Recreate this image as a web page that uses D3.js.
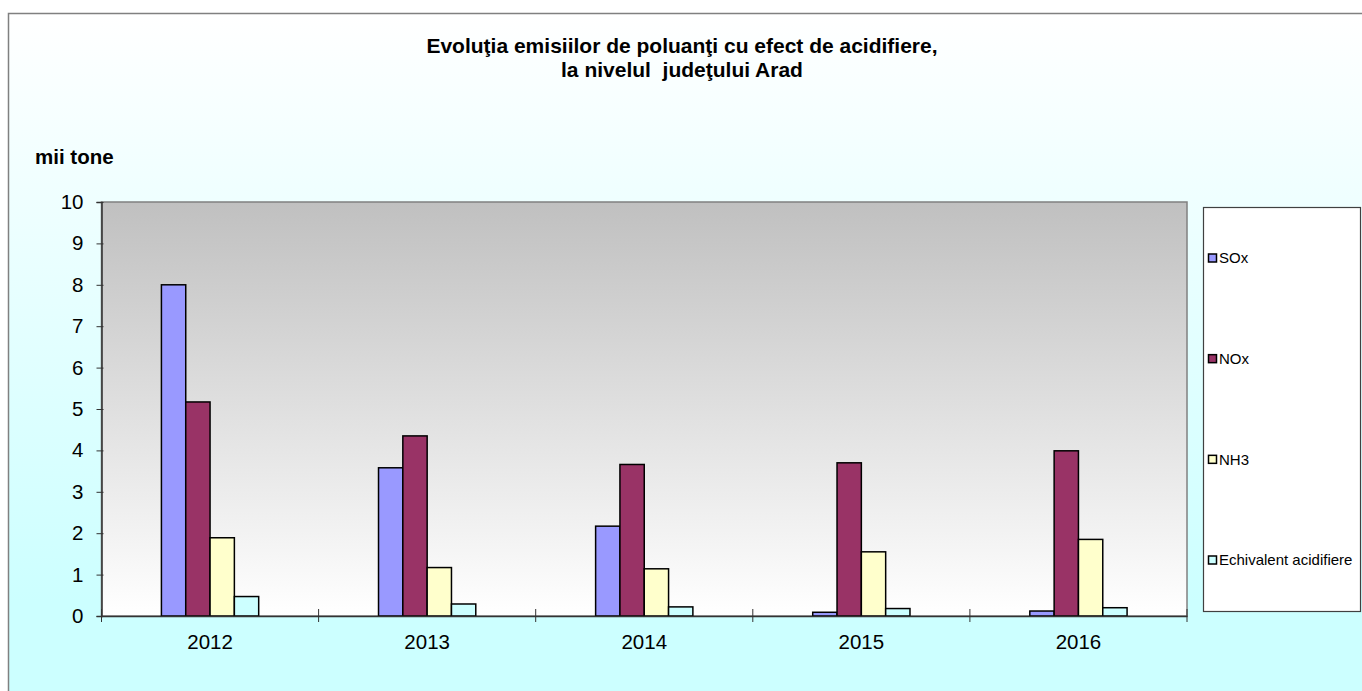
<!DOCTYPE html>
<html>
<head>
<meta charset="utf-8">
<script src="https://cdn.jsdelivr.net/npm/d3@7"></script>
<style>
    body { margin: 0; background: #ffffff; }
    svg { display: block; font-family: "Liberation Sans", Arial, sans-serif; }
</style>
</head>
<body>
<svg id="chart"></svg>
<script>
CHART_WIDTH = 1362;
CHART_HEIGHT = 691;
PLOT = { left: 101.5, right: 1187, top: 202, bottom: 616 };

// valori (mii tone)
var years = ["2012", "2013", "2014", "2015", "2016"];
var seriesNames = ["SOx", "NOx", "NH3", "Echivalent acidifiere"];
var sox = [8.0, 3.58, 2.17, 0.09, 0.12];
var nox = [5.17, 4.35, 3.66, 3.70, 3.99];
var nh3 = [1.89, 1.17, 1.14, 1.55, 1.85];
var echiv = [0.47, 0.29, 0.22, 0.18, 0.20];
var yTicks = [0, 1, 2, 3, 4, 5, 6, 7, 8, 9, 10];
var seriesColors = ["#9999ff", "#993366", "#ffffcc", "#ccffff"];

function main() {
    var svg = d3.select("#chart")
        .attr("width", CHART_WIDTH)
        .attr("height", CHART_HEIGHT);

    addGradients(svg);

    // fundalul graficului
    svg.append("rect")
        .attr("x", 8.5)
        .attr("y", 13.5)
        .attr("width", CHART_WIDTH)
        .attr("height", CHART_HEIGHT)
        .attr("fill", "url(#bgGrad)")
        .attr("stroke", "#808080")
        .attr("stroke-width", 1.5);

    svg.append("text")
        .attr("x", 682)
        .attr("y", 53)
        .attr("text-anchor", "middle")
        .style("font-size", "21px")
        .style("font-weight", "bold")
        .text("Evoluţia emisiilor de poluanţi cu efect de acidifiere,");
    svg.append("text")
        .attr("x", 682)
        .attr("y", 77)
        .attr("text-anchor", "middle")
        .style("font-size", "21px")
        .style("font-weight", "bold")
        .style("white-space", "pre")
        .text("la nivelul  judeţului Arad");

    svg.append("text")
        .attr("x", 35)
        .attr("y", 164)
        .style("font-size", "20.5px")
        .style("font-weight", "bold")
        .text("mii tone");

    var x = d3.scaleBand().domain(years).range([PLOT.left, PLOT.right]);
    var y = d3.scaleLinear().domain([0, 10]).range([PLOT.bottom, PLOT.top]);

    buildPlot(svg, x, y);
    addLegend(svg);
}

function addGradients(svg) {
    var defs = svg.append("defs");
    var bg = defs.append("linearGradient")
        .attr("id", "bgGrad")
        .attr("x1", 0).attr("y1", 0).attr("x2", 0).attr("y2", 1);
    bg.append("stop").attr("offset", "0%").attr("stop-color", "#ffffff");
    bg.append("stop").attr("offset", "85%").attr("stop-color", "#ccffff");
    bg.append("stop").attr("offset", "100%").attr("stop-color", "#ccffff");

    var plot = defs.append("linearGradient")
        .attr("id", "plotGrad")
        .attr("x1", 0).attr("y1", 0).attr("x2", 0).attr("y2", 1);
    plot.append("stop").attr("offset", "0%").attr("stop-color", "#c0c0c0");
    plot.append("stop").attr("offset", "100%").attr("stop-color", "#ffffff");
}

function buildPlot(svg, x, y) {
    svg.append("rect")
        .attr("x", PLOT.left)
        .attr("y", PLOT.top)
        .attr("width", PLOT.right - PLOT.left)
        .attr("height", PLOT.bottom - PLOT.top)
        .attr("fill", "url(#plotGrad)")
        .attr("stroke", "#808080")
        .attr("stroke-width", 1.5);

    var values = [sox, nox, nh3, echiv];
    var barW = x.bandwidth() * 0.112;
    var groupStart = (x.bandwidth() - barW * 4) / 2;

    var rows = [];
    for (var s = 0; s < values.length; s++) {
        for (var i = 0; i < years.length; i++) {
            rows.push({ s: s, year: years[i], value: values[s][i] });
        }
    }

    svg.append("g")
        .selectAll("rect")
        .data(rows)
        .enter().append("rect")
        .attr("x", function(d) { return x(d.year) + groupStart + d.s * barW; })
        .attr("y", function(d) { return y(d.value); })
        .attr("width", barW)
        .attr("height", function(d) { return y(0) - y(d.value); })
        .attr("fill", function(d) { return seriesColors[d.s]; })
        .attr("stroke", "#000")
        .attr("stroke-width", 1.5);

    // axa Y
    var yAxis = svg.append("g")
        .attr("transform", "translate(" + PLOT.left + ",0)")
        .call(d3.axisLeft(y).tickValues(yTicks).tickSize(5).tickPadding(13).tickFormat(d3.format("d")));
    yAxis.select(".domain").attr("stroke", "#333").attr("stroke-width", 1.5);
    yAxis.selectAll(".tick line").attr("stroke", "#333").attr("x2", -5).attr("x1", 2);
    yAxis.selectAll(".tick text")
        .style("font-size", "20.5px")
        .style("font-family", "'Liberation Sans', Arial, sans-serif")
        .attr("fill", "#000");

    // axa X
    var xAxis = svg.append("g")
        .attr("transform", "translate(0," + PLOT.bottom + ")")
        .call(d3.axisBottom(x).tickSize(0).tickPadding(18));
    xAxis.select(".domain").attr("stroke", "#333").attr("stroke-width", 1.5);
    xAxis.selectAll(".tick text")
        .style("font-size", "20.5px")
        .style("font-family", "'Liberation Sans', Arial, sans-serif")
        .attr("fill", "#000");

    var bounds = years.map(function(yr) { return x(yr); }).concat([PLOT.right]);
    xAxis.selectAll(".sep")
        .data(bounds)
        .enter().append("line")
        .attr("class", "sep")
        .attr("x1", function(d) { return d; })
        .attr("x2", function(d) { return d; })
        .attr("y1", -7)
        .attr("y2", 6)
        .attr("stroke", "#333")
        .attr("stroke-width", 1);
}

function addLegend(svg) {
    var box = { x: 1203, y: 207, w: 157, h: 404 };
    svg.append("rect")
        .attr("x", box.x + 0.5)
        .attr("y", box.y + 0.5)
        .attr("width", box.w)
        .attr("height", box.h)
        .attr("fill", "#ffffff")
        .attr("stroke", "#404040")
        .attr("stroke-width", 1.2);

    var ly = d3.scalePoint().domain(seriesNames).range([258, 560]);

    var item = svg.selectAll(".legend")
        .data(seriesNames)
        .enter().append("g")
        .attr("class", "legend");

    item.append("rect")
        .attr("x", 1208.5)
        .attr("y", function(d) { return ly(d) - 4; })
        .attr("width", 8)
        .attr("height", 8)
        .attr("fill", function(d, i) { return seriesColors[i]; })
        .attr("stroke", "#000")
        .attr("stroke-width", 1.5);

    item.append("text")
        .attr("x", 1219)
        .attr("y", function(d) { return ly(d); })
        .attr("dy", "0.36em")
        .style("font-size", "15px")
        .text(function(d) { return d; });
}

main();
</script>
</body>
</html>
